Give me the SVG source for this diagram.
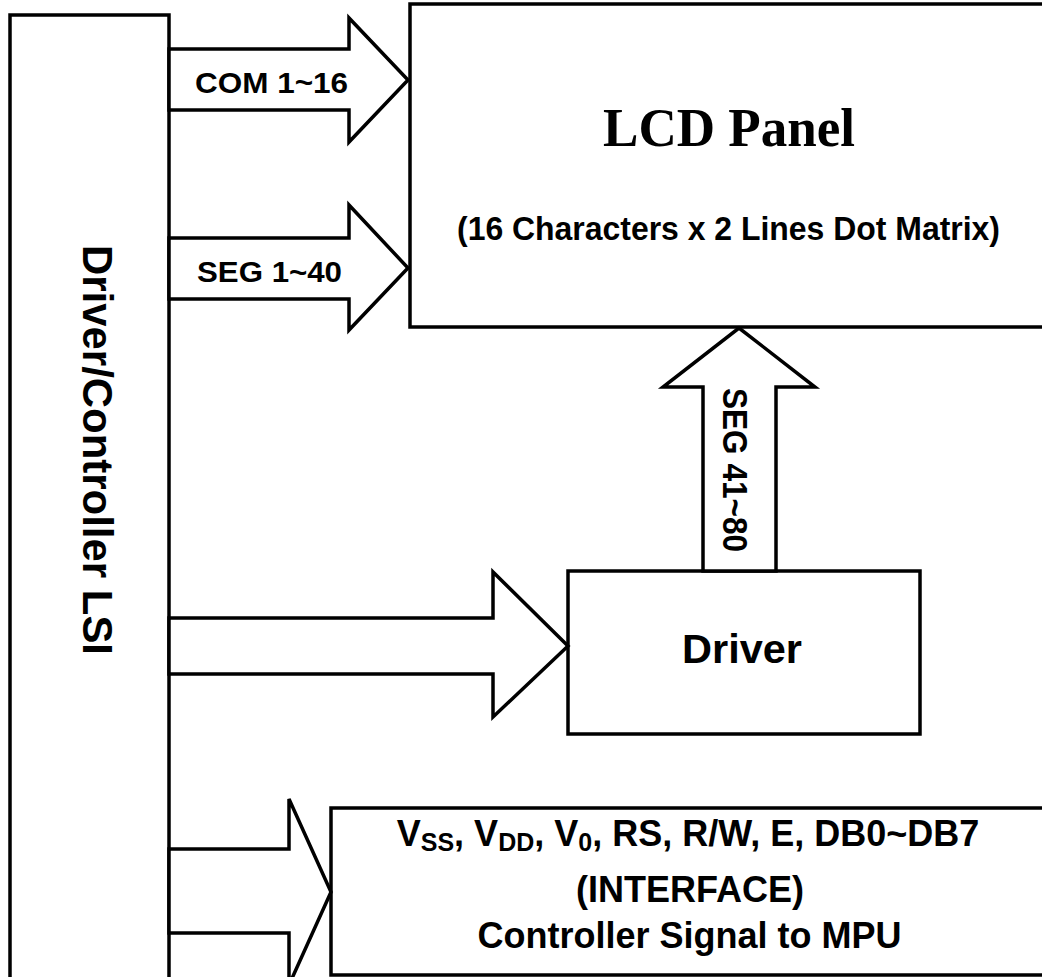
<svg xmlns="http://www.w3.org/2000/svg" width="1042" height="977" viewBox="0 0 1042 977">
<style>
.box{fill:#fff;stroke:#000;stroke-width:3.5}
.arr{fill:#fff;stroke:#000;stroke-width:3.5;stroke-linejoin:miter}
.t{font-family:"Liberation Sans",Arial,sans-serif;font-weight:bold;fill:#000;text-anchor:middle}
.serif{font-family:"Liberation Serif","Times New Roman",serif;font-weight:bold;fill:#000;text-anchor:middle}
</style>
<rect width="1042" height="977" fill="#fff"/>
<g id="lsi">
<rect class="box" x="10" y="15" width="159" height="1000"/>
<text class="t" font-size="43" textLength="410" lengthAdjust="spacingAndGlyphs" transform="translate(83,450) rotate(90)">Driver/Controller LSI</text>
</g>
<g id="lcd">
<rect class="box" x="410" y="4" width="700" height="323"/>
<text class="serif" x="729" y="146" font-size="55" textLength="252" lengthAdjust="spacingAndGlyphs">LCD Panel</text>
<text class="t" x="728.5" y="240" font-size="34" textLength="543" lengthAdjust="spacingAndGlyphs">(16 Characters x 2 Lines Dot Matrix)</text>
</g>
<g id="driver">
<rect class="box" x="568" y="571" width="352" height="163"/>
<text class="t" x="742" y="663" font-size="41.5">Driver</text>
</g>
<g id="interface">
<rect class="box" x="331" y="808" width="800" height="167"/>
<text class="t" x="688" y="846" font-size="36">V<tspan font-size="25" dy="5">SS</tspan><tspan dy="-5">, V</tspan><tspan font-size="25" dy="5">DD</tspan><tspan dy="-5">, V</tspan><tspan font-size="25" dy="5">0</tspan><tspan dy="-5">, RS, R/W, E, DB0~DB7</tspan></text>
<text class="t" x="690" y="902" font-size="36">(INTERFACE)</text>
<text class="t" x="689.5" y="948" font-size="36">Controller Signal to MPU</text>
</g>
<g id="connectors">
<g id="com-arrow">
<polygon class="arr" points="169,49 349,49 349,18 408,80 349,142 349,110 169,110"/>
<text class="t" x="271.5" y="93" font-size="30" textLength="153" lengthAdjust="spacingAndGlyphs">COM 1~16</text>
</g>
<g id="seg-arrow">
<polygon class="arr" points="169,238 349,238 349,205 408,268 349,330 349,299 169,299"/>
<text class="t" x="269.5" y="282" font-size="29" textLength="145" lengthAdjust="spacingAndGlyphs">SEG 1~40</text>
</g>
<g id="driver-arrow">
<polygon class="arr" points="169,618 493,618 493,572 568,646 493,717 493,674 169,674"/>
</g>
<g id="seg2-arrow">
<polygon class="arr" points="703,571 703,387 663,387 739,328 815,387 776,387 776,571"/>
<text class="t" font-size="35" textLength="164" lengthAdjust="spacingAndGlyphs" transform="translate(723,470) rotate(90)">SEG 41~80</text>
</g>
<g id="if-arrow">
<polygon class="arr" points="169,849 289,849 289,799 331,892 289,985 289,933 169,933"/>
</g>
</g>
</svg>
